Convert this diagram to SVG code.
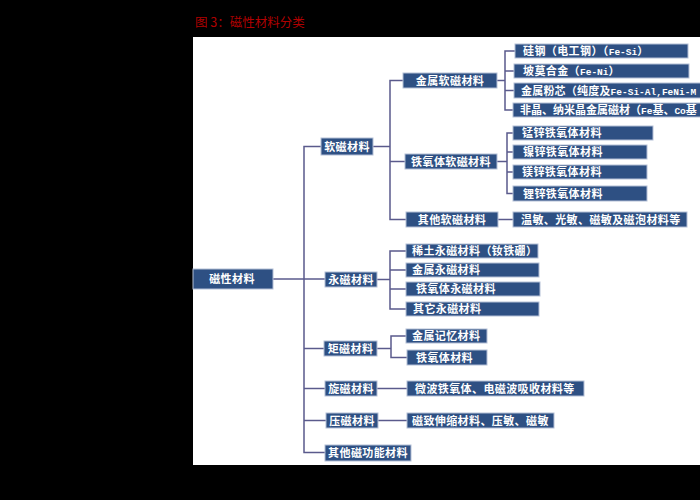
<svg xmlns="http://www.w3.org/2000/svg" width="700" height="500" viewBox="0 0 700 500">
<style>
.bx{fill:#2e5083;stroke:#b4bfd6;stroke-width:1}
.t{font-family:"Noto Sans CJK SC","Liberation Sans",sans-serif;font-size:11px;font-weight:700;fill:#ffffff;letter-spacing:0.4px}
.c{text-anchor:middle}
.lat{font-family:"Liberation Mono","Noto Sans CJK SC",monospace;font-size:9.5px;letter-spacing:0}
.ln{fill:none;stroke:#5a5a8c;stroke-width:1.5}
.ttl{font-family:"Noto Sans CJK SC","Liberation Serif",serif;font-size:12.5px;fill:#b00000}
</style>
<rect x="0" y="0" width="700" height="500" fill="#000000"/>
<rect x="193" y="37" width="507" height="428" fill="#ffffff"/>
<text class="ttl" x="195" y="27">图 3：磁性材料分类</text>
<g id="connectors">
<path class="ln" d="M273 279 H325"/>
<path class="ln" d="M321 146.5 H304 V452.5 H325"/>
<path class="ln" d="M304 348.5 H324"/>
<path class="ln" d="M304 388.5 H325"/>
<path class="ln" d="M304 420.5 H326"/>
<path class="ln" d="M373 146.5 H390"/>
<path class="ln" d="M403 80.5 H390 V219.5 H406"/>
<path class="ln" d="M390 161.5 H405"/>
<path class="ln" d="M497 80.5 H505"/>
<path class="ln" d="M515 51 H505 V110 H513"/>
<path class="ln" d="M505 71 H514"/>
<path class="ln" d="M505 90.5 H514"/>
<path class="ln" d="M497 161.5 H507"/>
<path class="ln" d="M513 133 H507 V193.5 H513"/>
<path class="ln" d="M507 152 H513"/>
<path class="ln" d="M507 172 H513"/>
<path class="ln" d="M498 219.5 H513"/>
<path class="ln" d="M377 279.5 H390"/>
<path class="ln" d="M406 251 H390 V309 H406"/>
<path class="ln" d="M390 270 H406"/>
<path class="ln" d="M390 289 H406"/>
<path class="ln" d="M377 348.5 H391"/>
<path class="ln" d="M406 336 H391 V357.5 H407"/>
<path class="ln" d="M377 388.5 H407"/>
<path class="ln" d="M378 420.5 H407"/>
</g>
<g id="n-root"><rect class="bx" x="193" y="269" width="80" height="20"/><text class="t c" x="232" y="283">磁性材料</text></g>
<g id="n-soft"><rect class="bx" x="321" y="138" width="52" height="17"/><text class="t c" x="347" y="150.5">软磁材料</text></g>
<g id="n-metal-soft"><rect class="bx" x="403" y="73" width="94" height="15"/><text class="t c" x="450" y="84.5">金属软磁材料</text></g>
<g id="n-fesi"><rect class="bx" x="515" y="44" width="173" height="14"/><text class="t" x="523" y="55">硅钢（电工钢）（<tspan class="lat">Fe-Si</tspan>）</text></g>
<g id="n-feni"><rect class="bx" x="514" y="64" width="175" height="14"/><text class="t" x="523" y="75">坡莫合金（<tspan class="lat">Fe-Ni</tspan>）</text></g>
<g id="n-powder"><rect class="bx" x="514" y="83" width="190" height="15"/><text class="t" x="521" y="94.5" style="letter-spacing:0.2px">金属粉芯（纯度及<tspan class="lat">Fe-Si-Al,FeNi-M</tspan></text></g>
<g id="n-amorph"><rect class="bx" x="513" y="103" width="190" height="14"/><text class="t" x="520" y="114" style="letter-spacing:0px">非晶、纳米晶金属磁材（<tspan class="lat">Fe</tspan>基、<tspan class="lat">Co</tspan>基</text></g>
<g id="n-ferrite-soft"><rect class="bx" x="405" y="154" width="92" height="15"/><text class="t c" x="451" y="165.5">铁氧体软磁材料</text></g>
<g id="n-mnzn"><rect class="bx" x="513" y="126" width="140" height="14"/><text class="t" x="522" y="137">锰锌铁氧体材料</text></g>
<g id="n-nizn"><rect class="bx" x="513" y="145" width="134" height="14"/><text class="t" x="523" y="156">镍锌铁氧体材料</text></g>
<g id="n-mgzn"><rect class="bx" x="513" y="165" width="134" height="14"/><text class="t" x="522" y="176">镁锌铁氧体材料</text></g>
<g id="n-lizn"><rect class="bx" x="513" y="186" width="134" height="15"/><text class="t" x="523" y="197.5">锂锌铁氧体材料</text></g>
<g id="n-other-soft"><rect class="bx" x="406" y="212" width="92" height="15"/><text class="t c" x="452" y="223.5">其他软磁材料</text></g>
<g id="n-sensitive"><rect class="bx" x="513" y="212" width="174" height="15"/><text class="t" x="521" y="223.5">温敏、光敏、磁敏及磁泡材料等</text></g>
<g id="n-perm"><rect class="bx" x="325" y="272" width="52" height="15"/><text class="t c" x="351" y="283.5">永磁材料</text></g>
<g id="n-ndfeb"><rect class="bx" x="406" y="244" width="132" height="14"/><text class="t" x="412" y="255">稀土永磁材料（钕铁硼）</text></g>
<g id="n-metal-perm"><rect class="bx" x="406" y="263" width="133" height="14"/><text class="t" x="412" y="274">金属永磁材料</text></g>
<g id="n-ferrite-perm"><rect class="bx" x="406" y="282" width="134" height="14"/><text class="t" x="416" y="293">铁氧体永磁材料</text></g>
<g id="n-other-perm"><rect class="bx" x="406" y="302" width="133" height="14"/><text class="t" x="413" y="313">其它永磁材料</text></g>
<g id="n-rect"><rect class="bx" x="324" y="341" width="53" height="15"/><text class="t c" x="350.5" y="352.5">矩磁材料</text></g>
<g id="n-memory"><rect class="bx" x="406" y="329" width="81" height="14"/><text class="t" x="412" y="340">金属记忆材料</text></g>
<g id="n-ferrite"><rect class="bx" x="407" y="350" width="80" height="15"/><text class="t" x="416" y="361.5">铁氧体材料</text></g>
<g id="n-gyro"><rect class="bx" x="325" y="381" width="52" height="15"/><text class="t c" x="351" y="392.5">旋磁材料</text></g>
<g id="n-microwave"><rect class="bx" x="407" y="381" width="177" height="15"/><text class="t" x="415" y="392.5">微波铁氧体、电磁波吸收材料等</text></g>
<g id="n-piezo"><rect class="bx" x="326" y="413" width="52" height="15"/><text class="t c" x="352" y="424.5">压磁材料</text></g>
<g id="n-magnetostr"><rect class="bx" x="407" y="413" width="147" height="15"/><text class="t" x="412" y="424.5">磁致伸缩材料、压敏、磁敏</text></g>
<g id="n-other-func"><rect class="bx" x="325" y="445" width="86" height="16"/><text class="t c" x="368" y="457">其他磁功能材料</text></g>
</svg>
